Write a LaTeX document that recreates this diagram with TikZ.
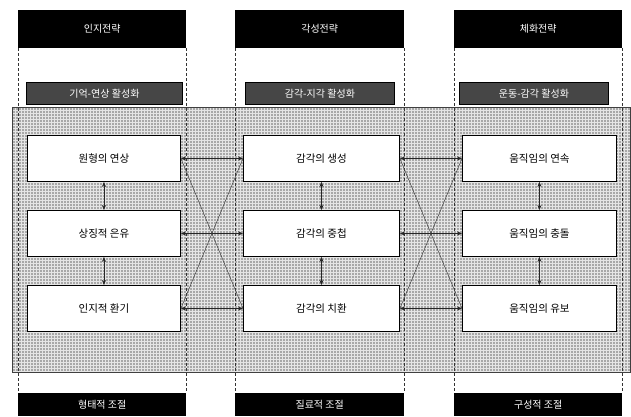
\documentclass[tikz,border=0pt]{standalone}
\usepackage{fontspec}
\setmainfont{Noto Sans CJK KR}
\usetikzlibrary{patterns,arrows.meta}
\begin{document}
\begin{tikzpicture}[x=1pt,y=-1pt,
  hdr/.style={fill=black,text=white,inner sep=0pt,anchor=north west,font=\fontsize{10}{12}\selectfont},
  actbar/.style={fill=gray!55!black,draw=black,line width=0.8pt,text=white,inner sep=0pt,anchor=north west,font=\fontsize{10}{12}\selectfont},
  itembox/.style={fill=white,draw=black,line width=0.9pt,inner sep=0pt,anchor=north west,font=\fontsize{10.5}{12}\selectfont},
  guide/.style={densely dashed,line width=0.5pt,black!80},
  link/.style={<->,>={Stealth[length=5pt,width=4pt]},line width=0.6pt,black!85},
  diag/.style={line width=0.5pt,black!75}]
\useasboundingbox (0,0) rectangle (631,416);
% panel
\fill[gray!68] (12,107) rectangle (630,372);
\fill[pattern=grid,pattern color=white!80!gray] (12,107) rectangle (630,372);
\draw[line width=0.9pt,black!75] (12,107) rectangle (630,372);
% headers
\node[hdr,minimum width=168pt,minimum height=38pt] (h1) at (18,10) {인지전략};
\node[hdr,minimum width=169pt,minimum height=38pt] (h2) at (235,10) {각성전략};
\node[hdr,minimum width=168pt,minimum height=38pt] (h3) at (454,10) {체화전략};
\node[hdr,minimum width=168pt,minimum height=23pt] (f1) at (18,393) {형태적 조절};
\node[hdr,minimum width=169pt,minimum height=23pt] (f2) at (235,393) {질료적 조절};
\node[hdr,minimum width=168pt,minimum height=23pt] (f3) at (454,393) {구성적 조절};
% guides
\foreach \i in {1,2,3}{
  \draw[guide] (h\i.south west) -- (f\i.north west);
  \draw[guide] (h\i.south east) -- (f\i.north east);
}
% activation bars
\node[actbar,minimum width=156pt,minimum height=22pt] (a1) at (26,82) {기억-연상 활성화};
\node[actbar,minimum width=149pt,minimum height=22pt] (a2) at (245,82) {감각-지각 활성화};
\node[actbar,minimum width=149pt,minimum height=22pt] (a3) at (459,82) {운동-감각 활성화};
% boxes
\node[itembox,minimum width=153pt,minimum height=46pt] (b11) at (27,135) {원형의 연상};
\node[itembox,minimum width=153pt,minimum height=46pt] (b12) at (27,210) {상징적 은유};
\node[itembox,minimum width=153pt,minimum height=46pt] (b13) at (27,285) {인지적 환기};
\node[itembox,minimum width=156pt,minimum height=46pt] (b21) at (243,135) {감각의 생성};
\node[itembox,minimum width=156pt,minimum height=46pt] (b22) at (243,210) {감각의 중첩};
\node[itembox,minimum width=156pt,minimum height=46pt] (b23) at (243,285) {감각의 치환};
\node[itembox,minimum width=154pt,minimum height=46pt] (b31) at (462,135) {움직임의 연속};
\node[itembox,minimum width=154pt,minimum height=46pt] (b32) at (462,210) {움직임의 충돌};
\node[itembox,minimum width=154pt,minimum height=46pt] (b33) at (462,285) {움직임의 유보};
% horizontal links
\foreach \r in {1,2,3}{
  \draw[link] (b1\r.east) -- (b2\r.west);
  \draw[link] (b2\r.east) -- (b3\r.west);
}
% diagonals
\draw[diag] (b11.east) -- (b23.west);
\draw[diag] (b13.east) -- (b21.west);
\draw[diag] (b21.east) -- (b33.west);
\draw[diag] (b23.east) -- (b31.west);
% vertical links
\foreach \c in {1,2,3}{
  \draw[link] (b\c1.south) -- (b\c2.north);
  \draw[link] (b\c2.south) -- (b\c3.north);
}
\end{tikzpicture}
\end{document}
